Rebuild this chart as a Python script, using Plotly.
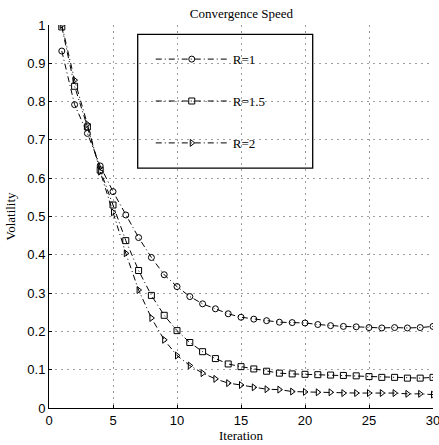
import plotly.graph_objects as go

iterations = list(range(1, 31))
r1 = [0.932, 0.792, 0.717, 0.632, 0.565, 0.504, 0.445, 0.393, 0.348, 0.317,
      0.291, 0.272, 0.259, 0.246, 0.237, 0.232, 0.228, 0.224, 0.223, 0.222,
      0.218, 0.215, 0.213, 0.212, 0.210, 0.209, 0.210, 0.209, 0.210, 0.213]
r15 = [0.995, 0.840, 0.734, 0.621, 0.530, 0.437, 0.359, 0.294, 0.242, 0.202,
       0.171, 0.147, 0.129, 0.115, 0.108, 0.102, 0.096, 0.091, 0.089, 0.088,
       0.087, 0.086, 0.085, 0.084, 0.082, 0.080, 0.080, 0.078, 0.078, 0.080]
r2 = [1.000, 0.856, 0.741, 0.617, 0.511, 0.404, 0.308, 0.235, 0.178, 0.137,
      0.111, 0.091, 0.076, 0.065, 0.060, 0.054, 0.049, 0.048, 0.043, 0.042,
      0.041, 0.041, 0.039, 0.039, 0.039, 0.039, 0.039, 0.037, 0.037, 0.035]
series_names = ["R=1", "R=1.5", "R=2"]
symbols = ["circle-open", "square-open", "triangle-right-open"]
x_ticks = [0, 5, 10, 15, 20, 25, 30]
y_ticks = [0, 0.1, 0.2, 0.3, 0.4, 0.5, 0.6, 0.7, 0.8, 0.9, 1]
y_tick_text = ["0", "0.1", "0.2", "0.3", "0.4", "0.5", "0.6", "0.7", "0.8", "0.9", "1"]

serif = "Liberation Serif, Times New Roman, serif"
sans = "Liberation Sans, Arial, sans-serif"

fig = go.Figure()
for name, vals, sym in zip(series_names, [r1, r15, r2], symbols):
    fig.add_trace(go.Scatter(
        x=iterations, y=vals, name=name, mode="lines+markers",
        line=dict(color="black", width=1, dash="6px,3px,1px,3px"),
        marker=dict(symbol=sym, size=6, color="black", line=dict(width=1, color="black")),
        legendgroup=name,
    ))

fig.update_layout(
    width=439, height=445,
    margin=dict(l=49, r=6, t=25, b=37, autoexpand=False),
    paper_bgcolor="white", plot_bgcolor="white",
    title=dict(text="Convergence Speed", x=0.55, xanchor="center", y=0.97, yanchor="middle",
               font=dict(family=serif, size=13, color="black")),
    showlegend=True,
    legend=dict(x=0.265, xanchor="left", y=0.95, yanchor="top",
                bgcolor="rgba(0,0,0,0)", borderwidth=0,
                font=dict(family=serif, size=13, color="black"),
                itemwidth=72, tracegroupgap=22, traceorder="grouped"),
    shapes=[dict(type="rect", xref="paper", yref="paper",
                 x0=(138 - 49.3) / 384, x1=(313 - 49.3) / 384,
                 y0=(408.3 - 168) / 383.6, y1=(408.3 - 34) / 383.6,
                 line=dict(color="black", width=1.3), fillcolor="white", layer="below")],
)
fig.update_xaxes(range=[0, 30], tickvals=x_ticks, ticks="inside", ticklen=3,
                 tickcolor="black", showline=True, linecolor="black", linewidth=1,
                 showgrid=True, gridcolor="#a0a0a0", griddash="2px,4px", gridwidth=1,
                 zeroline=False, ticklabeloverflow="allow", automargin=False,
                 tickfont=dict(family=sans, size=13, color="black"),
                 title=dict(text="Iteration", standoff=3,
                            font=dict(family=serif, size=13, color="black")))
fig.update_yaxes(range=[0, 1], tickvals=y_ticks, ticktext=y_tick_text, ticks="inside",
                 ticklen=3, tickcolor="black", showline=True, linecolor="black", linewidth=1,
                 showgrid=True, gridcolor="#a0a0a0", griddash="2px,4px", gridwidth=1,
                 zeroline=False, automargin=False,
                 tickfont=dict(family=sans, size=13, color="black"),
                 title=dict(text="Volatility", standoff=8,
                            font=dict(family=serif, size=13, color="black")))

fig.write_html("out.html")
